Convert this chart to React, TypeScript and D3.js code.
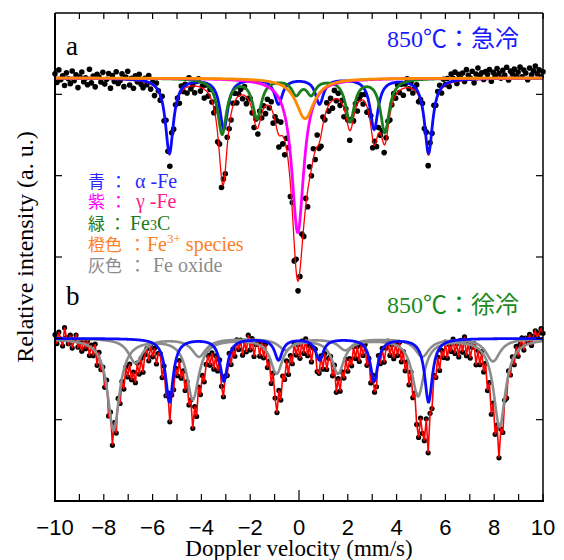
import React from 'react';
import * as d3 from 'd3';

// ---------- data ----------
const xTickValues = [-10, -8, -6, -4, -2, 0, 2, 4, 6, 8, 10];
const xMinorTicks = d3.range(-10, 11, 1);
const yTickValues = [1, 2, 3, 4, 5];

// 256 folded channels from -10 to +10 mm/s
const channels = d3.range(256).map((i) => -10 + (i * 20) / 255);

// panel a (850°C quenched) fit components: centres (mm/s), depths, FWHM
const baselineA = 5.2;
const alphaFeCentersA = [-5.31, -3.08, -0.84, 0.84, 3.08, 5.31];
const alphaFeDepthsA = [0.92, 0.62, 0.31, 0.31, 0.62, 0.92];
const alphaFeWidthA = 0.4;
const fe3cCentersA = [-3.15, -1.72, -0.12, 0.5, 2.09, 3.52];
const fe3cDepthsA = [0.68, 0.48, 0.18, 0.18, 0.52, 0.66];
const fe3cWidthA = 0.44;
const gammaFeCentersA = [-0.05];
const gammaFeDepthsA = [1.9];
const gammaFeWidthA = 0.6;
const fe3plusCentersA = [0.25];
const fe3plusDepthsA = [0.5];
const fe3plusWidthA = 0.9;

// measured points minus fit (0.01 units), panel a
const residualsA = [
  5, -4, 9, -1, 3, -7, 6, 0, -5, 8, -2, 4, -9, 2, 7, -3,
  1, -6, 10, -4, 3, -8, 5, 2, -3, 7, -5, 0, 6, -9, 4, -2,
  8, -4, -1, 6, -7, 3, 9, -5, 2, -8, 5, -1, 7, -3, -6, 4,
  -2, 8, -5, 3, -9, 6, 1, -4, 7, -7, 10, -3, -12, 9, -6, 5,
  3, -8, 6, -2, 4, -6, 9, -3, 1, -7, 5, 8, -4, 2, -9, 6,
  -3, 7, -1, -5, 10, -8, 12, -10, 6, -4, 9, -2, -6, 3, 8, -5,
  2, 6, -4, 9, -7, 1, 5, -3, -9, 8, -6, 11, -4, 3, -8, 6,
  -2, 7, -10, 4, 9, -12, 14, -8, -15, 11, 16, -13, 9, -18, 12, -10,
  -6, 15, -11, 8, -16, 13, -7, 10, -9, 12, -5, -11, 8, -4, 7, -6,
  4, -8, 9, -2, 6, -5, 3, -9, 7, 5, -10, 8, -3, 6, -7, 2,
  5, -4, 8, -6, 3, 10, -9, 4, -7, 6, -2, 9, -8, 3, 7, -5,
  1, 6, -3, 8, -2, 5, -7, 4, 9, -1, 6, -4, 3, 8, -6, 2,
  7, -5, 10, -11, 6, -3, 9, -2, 5, 7, -4, 8, 1, 6, -3, 9,
  4, 10, -2, 7, 3, 8, -1, 11, 5, 2, 9, -3, 6, 12, 4, 7,
  0, 8, 5, 10, -2, 7, 3, 11, 6, 1, 9, 4, 12, -1, 8, 5,
  10, 3, 7, 12, 2, 9, 6, -1, 11, 4, 8, 13, 5, 9, 2, 7,
];

// panel b (850°C slow cooled)
const baselineB = 2.0;
const alphaFeCentersB = [-5.31, -3.08, -0.84, 0.84, 3.08, 5.31];
const alphaFeDepthsB = [0.78, 0.52, 0.26, 0.26, 0.52, 0.78];
const alphaFeWidthB = 0.38;
const oxideACentersB = [-7.6, -4.35, -0.92, 1.6, 4.88, 8.22];
const oxideADepthsB = [1.12, 0.74, 0.42, 0.42, 0.7, 1.08];
const oxideAWidthB = 0.6;
const oxideBCentersB = [-6.7, -4.1, -0.55, 1.9, 5.05, 7.95];
const oxideBDepthsB = [0.3, 0.22, 0.14, 0.14, 0.22, 0.28];
const oxideBWidthB = 0.7;

const residualsB = [
  6, -3, 9, 2, -5, 14, 4, -2, 7, -6, 3, 8, -4, 1, -7, 5,
  -3, 6, -8, 4, -5, 9, -10, 7, -6, 3, -9, 10, -12, 8, -14, 11,
  -9, 12, -7, 5, -10, 8, -4, 9, -6, 3, -8, 10, -5, 7, -11, 4,
  8, -6, 10, -3, 6, -9, 4, 7, -12, 9, -7, 13, -10, 6, -4, 8,
  -5, 9, -8, 3, -11, 7, -6, 10, -13, 8, -9, 12, -5, 6, -8, 4,
  9, -4, 7, -10, 5, -7, 11, -6, -9, 8, -3, 10, -8, 4, -6, 9,
  -2, 7, -9, 5, -6, 11, -4, 8, -10, 3, 6, -7, 9, -5, 12, -8,
  4, -11, 9, -6, -13, 10, -8, 7, -4, 9, -10, 5, -7, 11, -3, 6,
  -9, 8, -5, 10, -7, 4, -11, 6, 9, -8, -5, 12, -6, 7, -10, 3,
  8, -7, 10, -12, 5, -9, 7, -4, 11, -6, 3, -8, 9, -5, 6, -10,
  7, -3, 10, -8, 5, -11, 8, -6, -9, 12, -4, 7, -10, 3, 9, -6,
  5, -9, 8, -4, 11, -7, 6, -10, 4, -13, 9, -6, 12, -8, -14, 7,
  -10, -16, 13, -18, 10, -7, 9, -5, 8, -11, 6, -4, 10, -8, 5, -3,
  9, -6, 4, -10, 7, -5, 11, -8, 6, -9, 3, 8, -12, 5, -7, 10,
  -6, 9, -11, 7, -14, 10, -9, 12, -16, 8, -10, 6, -7, 9, -4, 8,
  -5, 10, -3, 7, 12, -2, 9, 4, 11, -1, 8, 13, 6, 10, 14, 9,
];

// ---------- helpers ----------
const lorentz = (v: number, c: number, d: number, w: number) =>
  d / (1 + Math.pow((2 * (v - c)) / w, 2));
const site = (centers: number[], depths: number[], w: number) => (v: number) =>
  centers.reduce((s, c, k) => s + lorentz(v, c, depths[k], w), 0);

const W = 564;
const H = 560;
const L = 55, R = 543, T = 13, B = 501;

const x = d3.scaleLinear().domain([-10, 10]).range([L, R]);
const y = d3.scaleLinear().domain([0, 6]).range([B, T]);

const fine = d3.range(-10, 10.0001, 0.02);

const serif = "'Liberation Serif', 'Times New Roman', serif";
const sans = "'Liberation Sans', Arial, sans-serif";
const cjk = "'Noto Sans CJK JP', 'Noto Sans CJK SC', sans-serif";

const line = d3
  .line<[number, number]>()
  .x((d) => x(d[0]))
  .y((d) => y(d[1]));

function curve(base: number, f: (v: number) => number) {
  return line(fine.map((v) => [v, base - f(v)] as [number, number])) || '';
}

const aAlpha = site(alphaFeCentersA, alphaFeDepthsA, alphaFeWidthA);
const aFe3C = site(fe3cCentersA, fe3cDepthsA, fe3cWidthA);
const aGamma = site(gammaFeCentersA, gammaFeDepthsA, gammaFeWidthA);
const aFe3 = site(fe3plusCentersA, fe3plusDepthsA, fe3plusWidthA);
const aSum = (v: number) => aAlpha(v) + aFe3C(v) + aGamma(v) + aFe3(v);

const bAlpha = site(alphaFeCentersB, alphaFeDepthsB, alphaFeWidthB);
const bOxA = site(oxideACentersB, oxideADepthsB, oxideAWidthB);
const bOxB = site(oxideBCentersB, oxideBDepthsB, oxideBWidthB);
const bSum = (v: number) => bAlpha(v) + bOxA(v) + bOxB(v);

const pointsA = channels.map((v, i) => [v, baselineA - aSum(v) + residualsA[i] * 0.012] as [number, number]);
const pointsB = channels.map((v, i) => [v, baselineB - bSum(v) + residualsB[i] * 0.012] as [number, number]);

const BLUE = '#0b0bff';
const GREEN = '#1b7d1b';
const MAGENTA = '#ff00ff';
const ORANGE = '#ff8a00';
const GRAY = '#8c8c8c';
const RED = '#ff0000';

export default function App() {
  return (
    <svg
      width={W}
      height={H}
      viewBox={`0 0 ${W} ${H}`}
      style={{ position: 'absolute', left: 0, top: 0, background: '#fff' }}
    >
      <rect x={0} y={0} width={W} height={H} fill="#fff" />

      {/* panel b */}
      {pointsB.map((p, i) => (
        <circle key={'b' + i} cx={x(p[0])} cy={y(p[1])} r={2.6} fill="#000" />
      ))}
      <path d={line(pointsB) || ''} fill="none" stroke={RED} strokeWidth={1.6} />
      <path d={curve(baselineB, bOxB)} fill="none" stroke={GRAY} strokeWidth={2.6} />
      <path d={curve(baselineB, bOxA)} fill="none" stroke={GRAY} strokeWidth={2.6} />
      <path d={curve(baselineB, bAlpha)} fill="none" stroke={BLUE} strokeWidth={2.8} />

      {/* panel a */}
      {pointsA.map((p, i) => (
        <circle key={'a' + i} cx={x(p[0])} cy={y(p[1])} r={2.8} fill="#000" />
      ))}
      <path d={curve(baselineA, aSum)} fill="none" stroke={RED} strokeWidth={1.3} />
      <path d={curve(baselineA, aAlpha)} fill="none" stroke={BLUE} strokeWidth={2.8} />
      <path d={curve(baselineA, aFe3C)} fill="none" stroke={GREEN} strokeWidth={2.8} />
      <path d={curve(baselineA, aGamma)} fill="none" stroke={MAGENTA} strokeWidth={2.8} />
      <path d={curve(baselineA, aFe3)} fill="none" stroke={ORANGE} strokeWidth={2.8} />

      {/* frame */}
      <line x1={L} y1={T} x2={R} y2={T} stroke="#000" strokeWidth={1.5} />
      <line x1={R} y1={T} x2={R} y2={B} stroke="#000" strokeWidth={1.5} />
      <line x1={L} y1={T} x2={L} y2={B} stroke="#000" strokeWidth={2} />
      <line x1={L - 1} y1={B} x2={R + 1} y2={B} stroke="#000" strokeWidth={2} />

      {/* x ticks */}
      {xMinorTicks.map((t) => (
        <g key={'xt' + t}>
          <line x1={x(t)} x2={x(t)} y1={B} y2={B - (t === 0 ? 11 : 7)} stroke="#000" strokeWidth={1.2} />
          <line x1={x(t)} x2={x(t)} y1={T} y2={T + 6} stroke="#000" strokeWidth={1.2} />
        </g>
      ))}
      {xTickValues.map((t) => (
        <text key={'xl' + t} x={x(t)} y={535} textAnchor="middle" fontFamily={sans} fontSize={22} fill="#000">
          {d3.format('')(t)}
        </text>
      ))}

      {/* y ticks */}
      {yTickValues.map((t) => (
        <g key={'yt' + t}>
          <line x1={L} x2={L + 7} y1={y(t)} y2={y(t)} stroke="#000" strokeWidth={1.2} />
          <line x1={R} x2={R - 7} y1={y(t)} y2={y(t)} stroke="#000" strokeWidth={1.2} />
        </g>
      ))}

      {/* axis titles */}
      <text x={299} y={556} textAnchor="middle" fontFamily={serif} fontSize={23} fill="#000">
        Doppler velocity (mm/s)
      </text>
      <text transform="translate(33,247) rotate(-90)" textAnchor="middle" fontFamily={serif} fontSize={24} fill="#000">
        Relative intensity (a. u.)
      </text>

      {/* panel labels */}
      <text x={66} y={55} fontFamily={serif} fontSize={27} fill="#000">a</text>
      <text x={66} y={305} fontFamily={serif} fontSize={27} fill="#000">b</text>

      <text x={387} y={47} fontSize={24} fill="#1a1aff">
        <tspan fontFamily={serif}>850</tspan>
        <tspan fontFamily={cjk}>℃：急冷</tspan>
      </text>
      <text x={387} y={313} fontSize={24} fill="#1e8a1e">
        <tspan fontFamily={serif}>850</tspan>
        <tspan fontFamily={cjk}>℃：徐冷</tspan>
      </text>

      {/* legend */}
      <text y={188} fill="#2a2aff" fontSize={17} fontFamily={cjk}>
        <tspan x={88}>青</tspan>
        <tspan x={110}>：</tspan>
        <tspan x={135} fontFamily={serif} fontSize={20}>α -Fe</tspan>
      </text>
      <text y={208} fill="#ff00ff" fontSize={17} fontFamily={cjk}>
        <tspan x={88}>紫</tspan>
        <tspan x={110}>：</tspan>
        <tspan x={136} fontFamily={serif} fontSize={20} fill="#ff1a8c">γ -Fe</tspan>
      </text>
      <text y={230} fill="#1e7a1e" fontSize={17} fontFamily={cjk}>
        <tspan x={88}>緑</tspan>
        <tspan x={109}>：</tspan>
        <tspan x={130} fontFamily={serif} fontSize={20}>Fe</tspan>
        <tspan fontFamily={serif} fontSize={14}>3</tspan>
        <tspan fontFamily={serif} fontSize={20}>C</tspan>
      </text>
      <text y={251} fill="#ff7f27" fontSize={17} fontFamily={cjk}>
        <tspan x={88}>橙色</tspan>
        <tspan x={129}>：</tspan>
        <tspan x={147} fontFamily={serif} fontSize={20}>Fe</tspan>
        <tspan fontFamily={serif} fontSize={13} dy={-8}>3+</tspan>
        <tspan fontFamily={serif} fontSize={20} dy={8}> species</tspan>
      </text>
      <text y={272} fill="#8c8c8c" fontSize={17} fontFamily={cjk}>
        <tspan x={88}>灰色</tspan>
        <tspan x={129}>：</tspan>
        <tspan x={153} fontFamily={serif} fontSize={20}>Fe oxide</tspan>
      </text>
    </svg>
  );
}
